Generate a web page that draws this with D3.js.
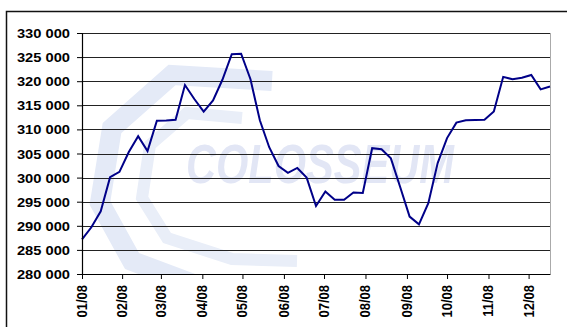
<!DOCTYPE html>
<html>
<head>
<meta charset="utf-8">
<script src="https://cdn.jsdelivr.net/npm/d3@7"></script>
<style>
  body { margin: 0; background: #fff; }
  svg { display: block; }
  .lbl { font-family: "Liberation Sans", Arial, sans-serif; font-weight: bold; font-size: 13px; fill: #000; }
</style>
</head>
<body>
<svg></svg>
<script>
// weekly values, first week starting 2 Jan 2008
var startDate = new Date(2008, 0, 2);
var values = [
  287200, 289700, 293000, 300100, 301200, 305300, 308600, 305500, 311800, 311850,
  312000, 319200, 316300, 313700, 316000, 320300, 325600, 325700, 320400, 311900,
  306300, 302400, 301000, 302000, 300000, 294100, 297100, 295400, 295400, 296900,
  296800, 306100, 305900, 304000, 298000, 291900, 290300, 294700, 303000, 308200,
  311400, 311900, 311950, 312000, 313700, 320900, 320400, 320700, 321300, 318300,
  318900
];
var yTicks = [280000, 285000, 290000, 295000, 300000, 305000, 310000, 315000, 320000, 325000, 330000];
var monthTicks = [
  new Date(2008, 0, 2), new Date(2008, 1, 1), new Date(2008, 2, 1), new Date(2008, 3, 1),
  new Date(2008, 4, 1), new Date(2008, 5, 1), new Date(2008, 6, 1), new Date(2008, 7, 1),
  new Date(2008, 8, 1), new Date(2008, 9, 1), new Date(2008, 10, 1), new Date(2008, 11, 1)
];

var data = values.map(function(v, i) {
  return { date: d3.timeDay.offset(startDate, i * 7), value: v };
});

var canvasWidth = 567;
var canvasHeight = 327;
var margin = { top: 33, right: 17, bottom: 53, left: 82 };
var width = canvasWidth - margin.left - margin.right;
var height = canvasHeight - margin.top - margin.bottom;

var svg = d3.select('svg')
  .attr('width', canvasWidth)
  .attr('height', canvasHeight);

// outer chart frame (runs past the right and bottom edges)
svg.append('rect')
  .attr('x', 6.5).attr('y', 11.5)
  .attr('width', 620).attr('height', 400)
  .attr('fill', '#fff')
  .attr('stroke', '#111')
  .attr('stroke-width', 1.5);

var xScale = d3.scaleTime()
  .domain([data[0].date, data[data.length - 1].date])
  .range([0, width]);
var yScale = d3.scaleLinear().domain([280000, 330000]).range([height, 0]);

var graphArea = svg.append('g')
  .attr('transform', 'translate(' + margin.left + ',' + margin.top + ')');

svg.append('clipPath').attr('id', 'plotClip')
  .append('rect').attr('width', width).attr('height', height);

// faint watermark logo
var wm = graphArea.append('g').attr('clip-path', 'url(#plotClip)');
wm.append('path')
  .attr('d', 'M190,48 L90,42 L30,95 L18,170 L50,228 L130,258 L230,262')
  .attr('fill', 'none').attr('stroke', '#e4eaf7').attr('stroke-width', 20);
wm.append('path')
  .attr('d', 'M160,85 L105,80 L68,112 L60,165 L85,205 L150,226 L215,228')
  .attr('fill', 'none').attr('stroke', '#e9eef8').attr('stroke-width', 12);
wm.append('text')
  .attr('x', 104).attr('y', 150)
  .attr('font-family', '"Liberation Sans", Arial, sans-serif')
  .attr('font-weight', 'bold').attr('font-style', 'italic')
  .attr('font-size', 56)
  .attr('textLength', 268).attr('lengthAdjust', 'spacingAndGlyphs')
  .attr('fill', '#e2e6f5')
  .text('COLOSSEUM');

// gridlines
graphArea.selectAll('line.grid').data(yTicks.slice(1)).enter().append('line')
  .attr('class', 'grid')
  .attr('x1', 0).attr('x2', width)
  .attr('y1', function(d) { return Math.round(yScale(d)) + 0.5; })
  .attr('y2', function(d) { return Math.round(yScale(d)) + 0.5; })
  .attr('stroke', '#222')
  .attr('stroke-width', 1);

// plot area right border
graphArea.append('line')
  .attr('x1', width + 0.5).attr('x2', width + 0.5)
  .attr('y1', 0).attr('y2', height)
  .attr('stroke', '#aaa');

// the series
var line = d3.line()
  .x(function(d) { return xScale(d.date); })
  .y(function(d) { return yScale(d.value); });

graphArea.append('path')
  .datum(data)
  .attr('fill', 'none')
  .attr('stroke', '#000088')
  .attr('stroke-width', 2)
  .attr('stroke-linejoin', 'miter')
  .attr('d', line);

// axes
var yAxis = graphArea.append('g')
  .attr('class', 'y axis')
  .call(d3.axisLeft(yScale).tickValues(yTicks).tickSize(5).tickPadding(7)
    .tickFormat(function(d) { return d3.format(',')(d).replace(',', ' '); }));

var xAxis = graphArea.append('g')
  .attr('class', 'x axis')
  .attr('transform', 'translate(0,' + height + ')')
  .call(d3.axisBottom(xScale).tickValues(monthTicks).tickSize(5).tickSizeOuter(0)
    .tickFormat(d3.timeFormat('%m/%y')));

svg.selectAll('.axis path.domain').attr('stroke', '#000').attr('stroke-width', 1.2);
svg.selectAll('.axis .tick line').attr('stroke', '#000');

yAxis.selectAll('text')
  .attr('class', 'lbl')
  .attr('font-family', null).attr('font-size', null)
  .attr('x', null).attr('dy', null)
  .attr('text-anchor', 'end')
  .attr('transform', 'translate(-12,4.5) scale(1.13,1)');

xAxis.selectAll('text')
  .attr('class', 'lbl')
  .attr('font-family', null).attr('font-size', null)
  .attr('y', null).attr('dy', null)
  .attr('text-anchor', 'end')
  .attr('transform', 'translate(4.5,11) scale(1.12,1) rotate(-90)');
</script>
</body>
</html>
